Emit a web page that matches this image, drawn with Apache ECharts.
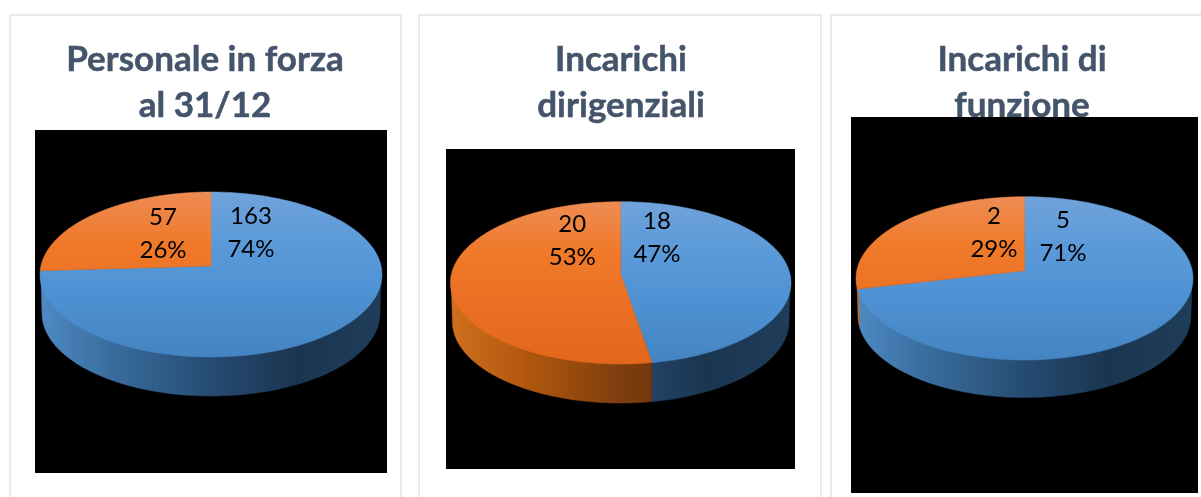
<!DOCTYPE html>
<html>
<head>
<meta charset="utf-8">
<style>html,body{margin:0;padding:0;background:#fff}#c{width:1201px;height:497px}</style>
<script src="https://cdn.jsdelivr.net/npm/echarts@6/dist/echarts.min.js"></script>
</head>
<body>
<div id="c"></div>
<script>
// ---- data ----
const titles = ['Personale in forza\nal 31/12', 'Incarichi\ndirigenziali', 'Incarichi di\nfunzione'];
const personaleValues = [163, 57];
const dirigenzialiValues = [18, 20];
const funzioneValues = [5, 2];

// ---- layout / style (no data) ----
const cards = [[10, 15, 391, 490], [419, 15, 402, 490], [831, 15, 380, 490]];
const backs = [[35, 130, 352, 343], [446, 149, 349, 320], [851, 117, 347, 376]];
const titleX = [200, 616, 1017];
const pies = [
  {cx: 211, cy: 266, rx: 171, top: 192, bottom: 357, depth: 39},
  {cx: 620.7, cy: 274, rx: 170.3, top: 201.7, bottom: 364, depth: 39},
  {cx: 1024.5, cy: 270.7, rx: 168.5, top: 196.7, bottom: 360, depth: 37.5}
];
const labelSpots = [
  [[0.235, -0.41], [-0.282, -0.40]],
  [[0.214, -0.453], [-0.286, -0.41]],
  [[0.229, -0.419], [-0.182, -0.468]]
];
const topStops = [
  [[0, '#70A3DA'], [0.3, '#5B9AD9'], [0.6, '#4F92D3'], [1, '#4484C2']],
  [[0, '#EE8C54'], [0.3, '#F07A2A'], [0.6, '#EC7124'], [1, '#E2671A']]
];
const wallStops = [
  [[0, '#4E8AC4'], [0.2, '#3A6E9F'], [0.5, '#264B72'], [0.75, '#1A3550'], [1, '#1F3D5A']],
  [[0, '#D0701F'], [0.2, '#B4590F'], [0.5, '#7F3E0F'], [0.75, '#5C2C08'], [1, '#6A3410']]
];
const valueSets = [personaleValues, dirigenzialiValues, funzioneValues];
const FONT = 'Lato, "Open Sans", sans-serif';

function stops(list) { return list.map(s => ({offset: s[0], color: s[1]})); }

function project(theta, k) {
  const u = Math.sin(theta), v = -Math.cos(theta), w = 1 - k * v;
  return [u / w, v / w, v];
}
function sliceAngles(values, i) {
  const sum = values.reduce((a, b) => a + b, 0);
  const before = values.slice(0, i).reduce((a, b) => a + b, 0);
  return [before / sum * 2 * Math.PI, (before + values[i]) / sum * 2 * Math.PI, sum];
}

const series = [], grids = [], xAxes = [], yAxes = [], titleOpts = [], graphics = [];

cards.forEach(c => graphics.push({type: 'rect', z: 0, silent: true,
  shape: {x: c[0], y: c[1], width: c[2], height: c[3]},
  style: {fill: '#fff', stroke: '#E6EBF2', lineWidth: 2}}));
backs.forEach(b => graphics.push({type: 'rect', z: 2, silent: true,
  shape: {x: b[0], y: b[1], width: b[2], height: b[3]}, style: {fill: '#000'}}));

pies.forEach((p, idx) => {
  const up = p.cy - p.top, down = p.bottom - p.cy;
  const k = (down - up) / (down + up);
  const b = up * (1 + k);
  const a = p.rx * Math.sqrt(1 - k * k);
  const values = valueSets[idx];
  titleOpts.push({text: titles[idx], left: titleX[idx], top: 32, textAlign: 'center', z: 1,
    textStyle: {fontFamily: FONT, fontWeight: 'bold', fontSize: 35, lineHeight: 46, color: '#44546A',
      textBorderColor: '#44546A', textBorderWidth: 0.5}});
  grids.push({left: p.cx - a, top: p.cy - b, width: 2 * a, height: 2 * b, show: false});
  xAxes.push({type: 'value', gridIndex: idx, min: -1, max: 1, show: false});
  yAxes.push({type: 'value', gridIndex: idx, min: -1, max: 1, inverse: true, show: false});
  const data = values.map((v, i) => ({value: [i, v]}));

  const shrink = 0.988;
  series.push({
    type: 'custom', xAxisIndex: idx, yAxisIndex: idx, z: 3, silent: true, data,
    renderItem(params, api) {
      const i = params.dataIndex;
      const [t0, t1] = sliceAngles(values, i);
      const topPts = [], botPts = [];
      const n = 160;
      for (let s = 0; s <= n; s++) {
        const q = project(t0 + (t1 - t0) * s / n, k);
        if (q[2] < k) continue;        // only the front of the rim shows
        const c = api.coord([q[0], q[1]]);
        // the rim starts a little under the top face so no black seam shows
        topPts.push([p.cx + (c[0] - p.cx) * 0.995, c[1] - 2]);
        botPts.unshift([p.cx + (c[0] - p.cx) * shrink, c[1] + p.depth]);
      }
      if (!topPts.length) return {type: 'group', children: []};
      const fill = {type: 'linear', global: true, x: p.cx - p.rx, y: 0, x2: p.cx + p.rx, y2: 0,
        colorStops: stops(wallStops[i])};
      return {type: 'polygon', shape: {points: topPts.concat(botPts)},
        style: {fill, stroke: fill, lineWidth: 0.5}};
    }
  });
  series.push({
    type: 'custom', xAxisIndex: idx, yAxisIndex: idx, z: 4, silent: true, data,
    renderItem(params, api) {
      const i = params.dataIndex;
      const [t0, t1] = sliceAngles(values, i);
      const pts = [api.coord([0, 0])];
      const n = 220;
      for (let s = 0; s <= n; s++) {
        const q = project(t0 + (t1 - t0) * s / n, k);
        pts.push(api.coord([q[0], q[1]]));
      }
      const fill = {type: 'linear', global: true, x: 0, y: p.top, x2: 0, y2: p.bottom,
        colorStops: stops(topStops[i])};
      return {type: 'polygon', shape: {points: pts},
        style: {fill, stroke: fill, lineWidth: 0.5}};
    }
  });
  series.push({
    type: 'custom', xAxisIndex: idx, yAxisIndex: idx, z: 5, silent: true, data,
    renderItem(params, api) {
      const i = params.dataIndex;
      const sum = values.reduce((x, y) => x + y, 0);
      const c = api.coord(labelSpots[idx][i]);
      return {type: 'text', style: {
        x: c[0], y: c[1], text: values[i] + '\n' + Math.round(values[i] / sum * 100) + '%',
        align: 'center', verticalAlign: 'middle', fill: '#000',
        font: '24px ' + FONT, lineHeight: 33}};
    }
  });
});

const chart = echarts.init(document.getElementById('c'), null, {renderer: 'canvas'});
chart.setOption({
  animation: false,
  backgroundColor: '#fff',
  title: titleOpts,
  tooltip: {show: false},
  grid: grids, xAxis: xAxes, yAxis: yAxes,
  graphic: {elements: graphics},
  series
});
</script>
</body>
</html>
